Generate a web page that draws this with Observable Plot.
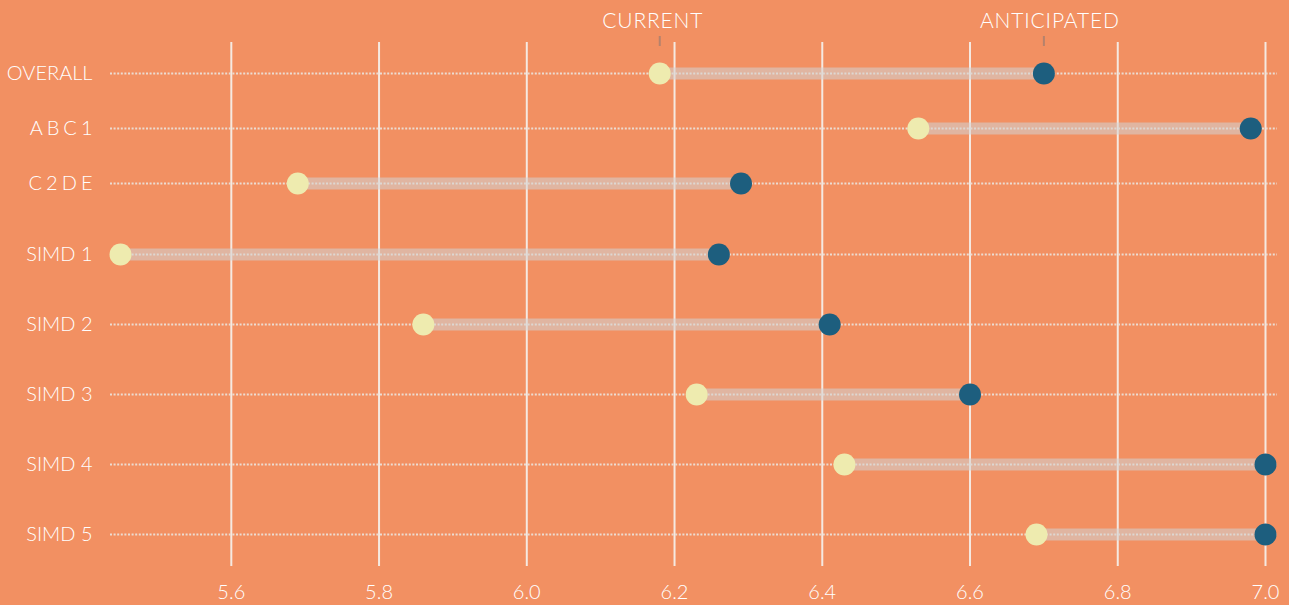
<!DOCTYPE html>
<html>
<head>
<meta charset="utf-8">
<script src="https://cdn.jsdelivr.net/npm/d3@7"></script>
<script src="https://cdn.jsdelivr.net/npm/@observablehq/plot@0.6"></script>
<style>
  html, body { margin: 0; padding: 0; background: #F29062; }
  #chart { width: 1289px; height: 605px; overflow: hidden; }
  #chart svg { display: block; }
</style>
</head>
<body>
<div id="chart"></div>
<script>
// Row labels, current and anticipated scores
const groups = ["OVERALL", "ABC1", "C2DE", "SIMD 1", "SIMD 2", "SIMD 3", "SIMD 4", "SIMD 5"];
const current = [6.18, 6.53, 5.69, 5.45, 5.86, 6.23, 6.43, 6.69];
const anticipated = [6.70, 6.98, 6.29, 6.26, 6.41, 6.60, 7.00, 7.00];
const xTicks = [5.6, 5.8, 6.0, 6.2, 6.4, 6.6, 6.8, 7.0];
const seriesLabels = ["CURRENT", "ANTICIPATED"];

const rows = groups.map((g, i) => ({group: g, current: current[i], anticipated: anticipated[i]}));
const gradeRows = rows.filter(d => !d.group.startsWith("SIMD"));
const simdRows = rows.filter(d => d.group.startsWith("SIMD"));

const COLORS = {
  current: "#EEEBAF",
  anticipated: "#1D5E7E",
  grid: "#F5E9E1",
  dotted: "#EBDCD2",
  bar: "#D2D2D2",
  text: "#FFFFFF",
  marker: "#B5826C"
};
const FONT = "Lato, 'Open Sans', sans-serif";

const xScale = {domain: [5.45, 7.0], insetLeft: 10, insetRight: 12};

function panel(data, {height, marginTop, marginBottom, yRange, showX, legend}) {
  const marks = [
    Plot.ruleX(xTicks, {stroke: COLORS.grid, strokeWidth: 2}),
    Plot.ruleY(data, {y: "group", stroke: COLORS.dotted, strokeWidth: 2, strokeDasharray: "2,1.6"}),
    Plot.link(data, {x1: "current", x2: "anticipated", y1: "group", y2: "group",
      stroke: COLORS.bar, strokeOpacity: 0.56, strokeWidth: 12}),
    Plot.dot(data, {x: "current", y: "group", r: 11, fill: COLORS.current}),
    Plot.dot(data, {x: "anticipated", y: "group", r: 11, fill: COLORS.anticipated})
  ];
  if (legend) {
    const first = data[0];
    const ann = [
      {label: seriesLabels[0], x: first.current},
      {label: seriesLabels[1], x: first.anticipated}
    ];
    marks.push(
      // short marker above the first row, pointing at each series' dot
      Plot.ruleX(ann, {x: "x", y1: () => first.group, y2: () => first.group, dy: -27,
        insetTop: -10, insetBottom: 0, stroke: COLORS.marker, strokeWidth: 2}),
      Plot.text(ann, {x: "x", y: () => first.group, text: "label", dy: -52,
        fill: COLORS.text, fontSize: 21, fontWeight: 300, fontFamily: FONT})
    );
  }
  return Plot.plot({
    width: 1289,
    height,
    marginLeft: 110,
    marginRight: 12,
    marginTop,
    marginBottom,
    style: {background: "transparent", color: COLORS.text, fontFamily: FONT, fontSize: "20px"},
    x: {...xScale, ticks: xTicks, tickFormat: d3.format(".1f"), tickSize: 0, tickPadding: 18,
        axis: showX ? "bottom" : null, label: null},
    y: {type: "point", domain: data.map(d => d.group), range: yRange, padding: 0,
        tickSize: 0, tickPadding: 18, label: null},
    marks
  });
}

const chart = document.getElementById("chart");
const gradePanel = panel(gradeRows, {height: 211, marginTop: 42, marginBottom: 0, yRange: [72, 183], showX: false, legend: true});
const simdPanel = panel(simdRows, {height: 394, marginTop: 0, marginBottom: 39, yRange: [42, 324], showX: true, legend: false});
chart.appendChild(gradePanel);
chart.appendChild(simdPanel);

// Legend labels sit a little off their markers
d3.select(gradePanel).selectAll("text").each(function() {
  const t = this.textContent;
  if (t === seriesLabels[0]) d3.select(this).attr("dx", -7).style("letter-spacing", "0.04em");
  if (t === seriesLabels[1]) d3.select(this).attr("dx", 6).style("letter-spacing", "0.04em");
});

// Row labels and tick labels in a light weight, wider tracking on the social-grade rows
const tickText = xTicks.map(d3.format(".1f"));
d3.select(chart).selectAll("text").each(function() {
  const t = this.textContent;
  if (groups.includes(t) || tickText.includes(t)) d3.select(this).style("font-weight", 300);
  if (t === "ABC1" || t === "C2DE") {
    d3.select(this).style("letter-spacing", "0.2em").attr("dx", "0.2em");
  }
});
</script>
</body>
</html>
